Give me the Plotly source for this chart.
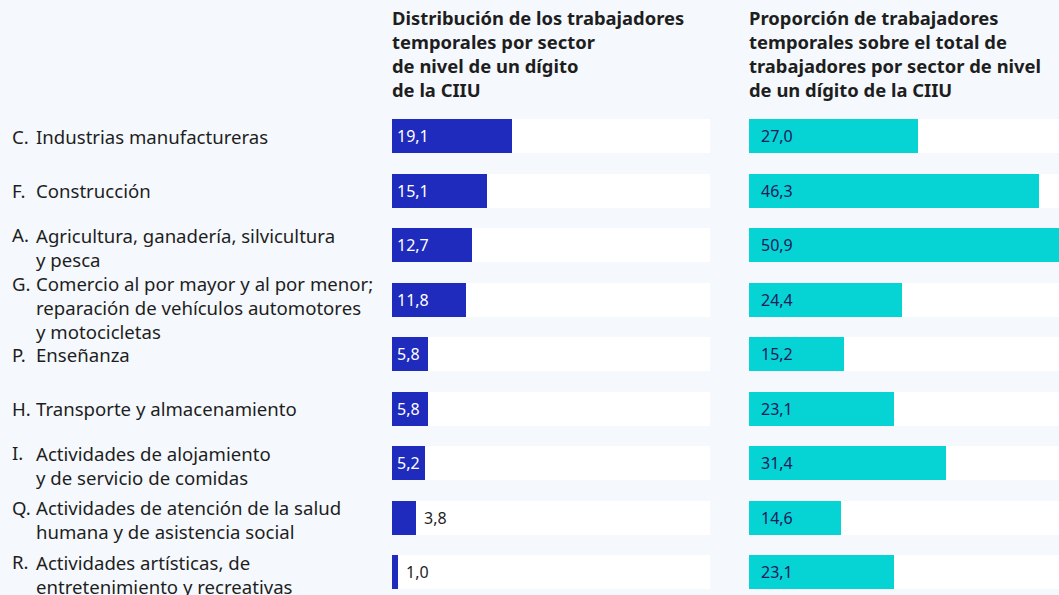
import plotly.graph_objects as go

# Sector codes, names and the two indicators
codes = ["C.", "F.", "A.", "G.", "P.", "H.", "I.", "Q.", "R."]
sector_lines = [
    ["Industrias manufactureras"],
    ["Construcción"],
    ["Agricultura, ganadería, silvicultura", "y pesca"],
    ["Comercio al por mayor y al por menor;", "reparación de vehículos automotores", "y motocicletas"],
    ["Enseñanza"],
    ["Transporte y almacenamiento"],
    ["Actividades de alojamiento", "y de servicio de comidas"],
    ["Actividades de atención de la salud", "humana y de asistencia social"],
    ["Actividades artísticas, de", "entretenimiento y recreativas"],
]
distribucion = [19.1, 15.1, 12.7, 11.8, 5.8, 5.8, 5.2, 3.8, 1.0]
proporcion = [27.0, 46.3, 50.9, 24.4, 15.2, 23.1, 31.4, 14.6, 23.1]

title_left = "Distribución de los trabajadores<br>temporales por sector<br>de nivel de un dígito<br>de la CIIU"
title_right = "Proporción de trabajadores<br>temporales sobre el total de<br>trabajadores por sector de nivel<br>de un dígito de la CIIU"

# Styling
W, H = 1059, 595
BG = "#f5f9fd"
BLUE = "#1f2bbd"
CYAN = "#06d3d3"
TRACK_COLOR = "#ffffff"
TEXT = "#1e1e1e"
NAVY = "#1d1a5c"
FONT = "Noto Sans"
LABEL_SIZE = 18.6
TITLE_SIZE = 18.4
VALUE_SIZE = 16

TRACK = 50.7                 # length of the white background track (in %)
left_x0, track_px = 392, 318
right_x0 = 749
px_per_unit = track_px / TRACK

row0, pitch, bar_px = 136, 54.5, 34
n = len(codes)
rows = list(range(n))
y_range = [(H - row0) / pitch, -row0 / pitch]
bar_w = bar_px / pitch

fig = go.Figure()

for xa, vals, color in (("x", distribucion, BLUE), ("x2", proporcion, CYAN)):
    fig.add_trace(go.Bar(
        x=[TRACK + 5] * n, y=rows, orientation="h", xaxis=xa, yaxis="y",
        marker=dict(color=TRACK_COLOR, line=dict(width=0)),
        width=bar_w, hoverinfo="skip", showlegend=False,
    ))
    fig.add_trace(go.Bar(
        x=vals, y=rows, orientation="h", xaxis=xa, yaxis="y",
        marker=dict(color=color, line=dict(width=0)),
        width=bar_w, showlegend=False,
    ))

annotations = []

def fmt(v):
    return f"{v:.1f}".replace(".", ",")

# value labels
for i, v in enumerate(distribucion):
    if v >= 5:
        annotations.append(dict(x=0, y=i, xref="x", yref="y", text=fmt(v), showarrow=False,
                                xanchor="left", yanchor="middle", xshift=3,
                                font=dict(family=FONT, size=VALUE_SIZE, color="#ffffff")))
    else:
        annotations.append(dict(x=v, y=i, xref="x", yref="y", text=fmt(v), showarrow=False,
                                xanchor="left", yanchor="middle", xshift=6,
                                font=dict(family=FONT, size=VALUE_SIZE, color=TEXT)))
for i, v in enumerate(proporcion):
    annotations.append(dict(x=0, y=i, xref="x2", yref="y", text=fmt(v), showarrow=False,
                            xanchor="left", yanchor="middle", xshift=10,
                            font=dict(family=FONT, size=VALUE_SIZE, color=NAVY)))

# category labels: code column plus a wrapped name block
line_h = 1.3 * LABEL_SIZE
block_shift = {1: 0, 2: -2, 3: -8}
for i, (code, lines) in enumerate(zip(codes, sector_lines)):
    k = len(lines)
    shift = block_shift[k]
    first_line_shift = shift + (k - 1) * line_h / 2
    annotations.append(dict(x=10 / W, y=i, xref="paper", yref="y", text=code, showarrow=False,
                            xanchor="left", yanchor="middle", yshift=first_line_shift,
                            font=dict(family=FONT, size=LABEL_SIZE, color=TEXT)))
    annotations.append(dict(x=34 / W, y=i, xref="paper", yref="y", text="<br>".join(lines),
                            showarrow=False, xanchor="left", yanchor="middle", align="left",
                            yshift=shift,
                            font=dict(family=FONT, size=LABEL_SIZE, color=TEXT)))

# panel titles
for x0, t in ((left_x0, title_left), (right_x0, title_right)):
    annotations.append(dict(x=(x0 - 2) / W, y=1 - 3 / H, xref="paper", yref="paper", text=f"<b>{t}</b>",
                            showarrow=False, xanchor="left", yanchor="top", align="left",
                            font=dict(family=FONT, size=TITLE_SIZE, color=TEXT)))

axis_common = dict(visible=False, fixedrange=True, showgrid=False, zeroline=False)
fig.update_layout(
    width=W, height=H,
    margin=dict(l=0, r=0, t=0, b=0),
    paper_bgcolor=BG, plot_bgcolor=BG,
    barmode="overlay", bargap=0,
    xaxis=dict(domain=[left_x0 / W, (left_x0 + track_px) / W], range=[0, TRACK], anchor="y", **axis_common),
    xaxis2=dict(domain=[right_x0 / W, 1], range=[0, (W - right_x0) / px_per_unit], anchor="y", **axis_common),
    yaxis=dict(domain=[0, 1], range=y_range, **axis_common),
    annotations=annotations,
)

fig.write_html("out.html")
